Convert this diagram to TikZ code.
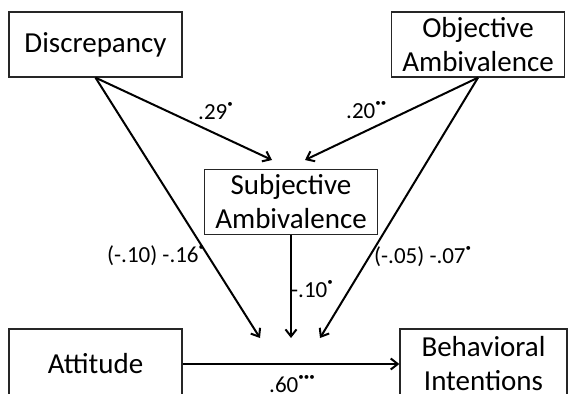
\documentclass[tikz,border=0pt]{standalone}
\usepackage{fontspec}
\setmainfont{Carlito}
\usetikzlibrary{arrows.meta}
\newcommand{\sdot}[1]{\raisebox{0.5em}{\fontsize{11}{11}\selectfont #1}}
\begin{document}
\begin{tikzpicture}[x=1pt,y=-1pt,
  box/.style={draw=black!85, line width=1.3pt, minimum width=173pt, minimum height=65pt, align=center, font=\fontsize{29}{34}\selectfont, inner sep=0pt},
  lbl/.style={font=\fontsize{23}{26}\selectfont, inner sep=0pt, anchor=base west},
  conn/.style={line width=2pt, -{Straight Barb[length=7pt,width=11pt,line width=2pt]}}]
\useasboundingbox (0,0) rectangle (569,393);
\clip (0,0) rectangle (569,393);
\node[box] (disc) at (95.5,44.5) {Discrepancy};
\node[box] (obj) at (478,44.5) {Objective\\Ambivalence};
\node[box] (subj) at (291,202) {Subjective\\Ambivalence};
\node[box, minimum height=70pt] (att) at (95.5,364) {Attitude};
\node[box, minimum height=70pt, minimum width=167pt] (bi) at (483.5,364) {Behavioral\\Intentions};
\coordinate (m1) at (272,160);
\coordinate (m2) at (305,160);
\coordinate (t1) at (260,338);
\coordinate (t2) at (291,338);
\coordinate (t3) at (320,338);
\draw[conn] (disc.south) -- (m1);
\draw[conn] (obj.south) -- (m2);
\draw[conn] (disc.south) -- (t1);
\draw[conn] (subj.south) -- (t2);
\draw[conn] (obj.south) -- (t3);
\draw[conn] (att.east) -- (bi.west);
\node[lbl] (l1) at (198,119) {.29\sdot{•}};
\node[lbl] (l2) at (346,118) {.20\sdot{••}};
\node[lbl] (l3) at (107,262) {(-.10) -.16\sdot{•}};
\node[lbl] (l4) at (291,297) {-.10\sdot{•}};
\node[lbl] (l5) at (374,263) {(-.05) -.07\sdot{•}};
\node[lbl] (l6) at (269,392) {.60\sdot{•••}};
\end{tikzpicture}
\end{document}
